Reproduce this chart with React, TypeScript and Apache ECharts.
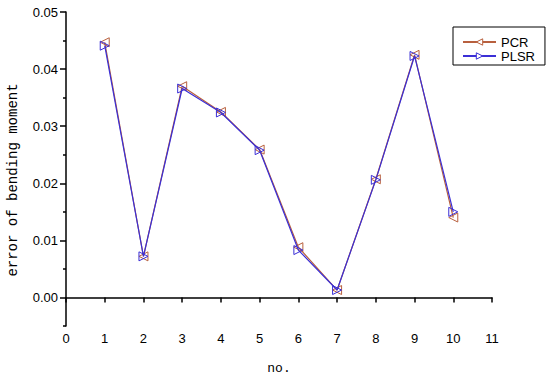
import React, { useEffect, useRef } from "react";
import * as echarts from "echarts";

const xValues = [1, 2, 3, 4, 5, 6, 7, 8, 9, 10];
const pcrValues = [0.0447, 0.0072, 0.037, 0.0325, 0.0259, 0.0088, 0.0013, 0.0207, 0.0425, 0.014];
const plsrValues = [0.0441, 0.0072, 0.0366, 0.0324, 0.0258, 0.0083, 0.0013, 0.0206, 0.0423, 0.015];
const yMajorTicks = [0, 0.01, 0.02, 0.03, 0.04, 0.05];
const yMinorTicks = [-0.005, 0.005, 0.015, 0.025, 0.035, 0.045];

const PCR_COLOR = "#b8603e";
const PLSR_COLOR = "#3b2fd6";

export default function App() {
  const ref = useRef<HTMLDivElement>(null);
  useEffect(() => {
    if (!ref.current) return;
    const chart = echarts.init(ref.current, undefined, { renderer: "svg" });
    const axisCommon = {
      axisLine: { show: true, lineStyle: { color: "#000", width: 1.5 } },
      splitLine: { show: false },
    };
    chart.setOption({
      animation: false,
      backgroundColor: "#fff",
      grid: { left: 66, right: 58, top: 12, bottom: 55, outerBoundsMode: "none", containLabel: false },
      xAxis: {
        type: "value",
        min: 0,
        max: 11,
        interval: 1,
        name: "no.",
        nameLocation: "middle",
        nameGap: 36,
        nameTextStyle: { fontFamily: "Liberation Mono", fontSize: 13, color: "#000" },
        ...axisCommon,
        axisTick: { show: true, inside: false, length: 5, lineStyle: { color: "#000", width: 1.5 } },
        axisLabel: { color: "#000", fontFamily: "Liberation Sans", fontSize: 13, margin: 6 },
      },
      yAxis: [
        {
          type: "value",
          min: -0.005,
          max: 0.05,
          ...axisCommon,
          axisTick: {
            show: true,
            length: 6,
            customValues: yMajorTicks,
            lineStyle: { color: "#000", width: 1.5 },
          },
          axisLabel: {
            color: "#000",
            fontFamily: "Liberation Sans",
            fontSize: 13,
            margin: 8,
            customValues: yMajorTicks,
            formatter: (v: number) => v.toFixed(2),
          },
        },
        {
          type: "value",
          min: -0.005,
          max: 0.05,
          position: "left",
          axisLine: { show: false },
          splitLine: { show: false },
          axisTick: {
            show: true,
            length: 3,
            customValues: yMinorTicks,
            lineStyle: { color: "#000", width: 1.5 },
          },
          axisLabel: { show: false, customValues: yMinorTicks },
        },
      ],
      graphic: [
        {
          type: "text",
          x: 13,
          y: 180,
          rotation: Math.PI / 2,
          style: {
            text: "error of bending moment",
            fontFamily: "Liberation Mono",
            fontSize: 14,
            fill: "#000",
            align: "center",
            verticalAlign: "middle",
          },
        },
      ],
      legend: {
        orient: "vertical",
        left: 453,
        top: 27,
        padding: [8, 10, 2, 9],
        borderColor: "#000",
        borderWidth: 1,
        itemWidth: 33,
        itemHeight: 8,
        itemGap: 0,
        textStyle: { fontFamily: "Liberation Sans", fontSize: 13, lineHeight: 14, color: "#000" },
        data: [
          { name: "PCR", itemStyle: { color: "#fff", borderColor: PCR_COLOR, borderWidth: 1 } },
          { name: "PLSR", itemStyle: { color: "#fff", borderColor: PLSR_COLOR, borderWidth: 1 } },
        ],
      },
      series: [
        {
          name: "PCR",
          type: "line",
          data: xValues.map((x, i) => [x, pcrValues[i]]),
          symbol: "triangle",
          symbolRotate: 90,
          symbolSize: 9,
          lineStyle: { color: PCR_COLOR, width: 1.2 },
          itemStyle: { color: "rgba(255,255,255,0)", borderColor: PCR_COLOR, borderWidth: 1 },
          z: 2,
        },
        {
          name: "PLSR",
          type: "line",
          data: xValues.map((x, i) => [x, plsrValues[i]]),
          symbol: "triangle",
          symbolRotate: -90,
          symbolSize: 9,
          lineStyle: { color: PLSR_COLOR, width: 1.2 },
          itemStyle: { color: "rgba(255,255,255,0)", borderColor: PLSR_COLOR, borderWidth: 1 },
          z: 3,
        },
      ],
    });
    return () => chart.dispose();
  }, []);
  return <div ref={ref} style={{ width: 550, height: 381, position: "absolute", left: 0, top: 0 }} />;
}
